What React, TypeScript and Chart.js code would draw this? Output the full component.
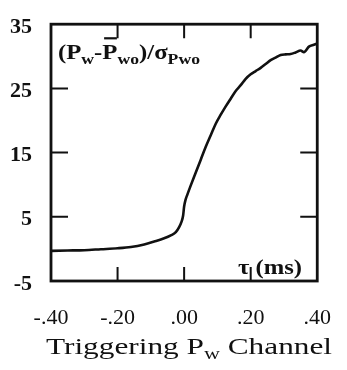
import { useEffect, useRef } from "react";
import { Chart, registerables } from "chart.js";

Chart.register(...registerables);

// Delay tau in milliseconds and the normalised P_w signal at each delay
const tauMs = [
  -0.4, -0.35, -0.3, -0.25, -0.2, -0.16, -0.12, -0.09, -0.06, -0.04, -0.025, -0.015,
  -0.008, -0.003, 0.0, 0.004, 0.01, 0.02, 0.035, 0.05, 0.065, 0.08, 0.095, 0.11,
  0.125, 0.14, 0.155, 0.17, 0.185, 0.2, 0.215, 0.23, 0.245, 0.26, 0.275, 0.29,
  0.305, 0.32, 0.335, 0.35, 0.36, 0.375, 0.39, 0.4,
];
const normPw = [
  -0.3, -0.25, -0.2, -0.05, 0.1, 0.3, 0.7, 1.15, 1.65, 2.1, 2.6, 3.4,
  4.2, 5.2, 6.6, 7.6, 8.5, 9.9, 11.9, 13.9, 15.9, 17.7, 19.5, 20.9,
  22.2, 23.4, 24.6, 25.5, 26.5, 27.2, 27.7, 28.2, 28.8, 29.4, 29.8, 30.2,
  30.3, 30.35, 30.6, 30.9, 30.65, 31.5, 31.8, 32.0,
];

// Axis ranges and the inward tick marks on all four sides
const xRange = [-0.4, 0.4];
const yRange = [-5, 35];
const yStep = 10;
const xStep = 0.2;
const innerXTicks = [-0.2, 0.0, 0.2];
const innerYTicks = [25, 15, 5];

const INK = "#111";
const SERIF = "'Liberation Serif', 'DejaVu Serif', serif";

function fmtTau(v: number): string {
  const s = Number(v).toFixed(2);
  return s.replace(/^(-?)0\./, "$1.");
}

type Part = { t: string; sub?: boolean; bar?: boolean };

function measureRich(ctx: CanvasRenderingContext2D, parts: Part[], mainFont: string, subFont: string) {
  let w = 0;
  for (const p of parts) {
    ctx.font = p.sub ? subFont : mainFont;
    w += ctx.measureText(p.t).width;
  }
  return w;
}

// Draws a run of text with subscripts, squeezed or widened to a set width
function drawRich(
  ctx: CanvasRenderingContext2D,
  parts: Part[],
  x: number,
  y: number,
  width: number,
  mainFont: string,
  subFont: string,
  subDrop: number,
  barRise = 20
) {
  const natural = measureRich(ctx, parts, mainFont, subFont);
  const sx = width / natural;
  const bars: Array<[number, number]> = [];
  ctx.save();
  ctx.translate(x, 0);
  ctx.scale(sx, 1);
  let cx = 0;
  for (const p of parts) {
    ctx.font = p.sub ? subFont : mainFont;
    const w = ctx.measureText(p.t).width;
    ctx.fillText(p.t, cx, p.sub ? y + subDrop : y);
    if (p.bar) bars.push([x + (cx + 1.5) * sx, x + (cx + w - 0.5) * sx]);
    cx += w;
  }
  ctx.restore();
  // overbars, drawn in unscaled space
  ctx.save();
  ctx.fillStyle = INK;
  for (const [a, b] of bars) {
    ctx.fillRect(a, y - barRise - 1, b - a, 2.2);
  }
  ctx.restore();
}

const framePlugin = {
  id: "frameAndLabels",
  afterDraw(chart: any) {
    const { ctx, chartArea } = chart;
    const xs = chart.scales.x;
    const ys = chart.scales.y;
    const { left, right, top, bottom } = chartArea;
    ctx.save();
    ctx.strokeStyle = INK;
    ctx.fillStyle = INK;

    // box
    ctx.lineWidth = 2.8;
    ctx.strokeRect(left, top, right - left, bottom - top);

    // inward tick marks
    ctx.lineWidth = 2;
    ctx.beginPath();
    for (const v of innerXTicks) {
      const px = xs.getPixelForValue(v);
      ctx.moveTo(px, top);
      ctx.lineTo(px, top + 14);
      ctx.moveTo(px, bottom);
      ctx.lineTo(px, bottom - 14);
    }
    for (const v of innerYTicks) {
      const py = ys.getPixelForValue(v);
      ctx.moveTo(left, py);
      ctx.lineTo(left + 17, py);
      ctx.moveTo(right, py);
      ctx.lineTo(right - 17, py);
    }
    ctx.stroke();

    ctx.textBaseline = "alphabetic";
    ctx.textAlign = "left";

    // quantity label in the upper-left corner
    drawRich(
      ctx,
      [
        { t: "(P" },
        { t: "w", sub: true },
        { t: "-" },
        { t: "P", bar: true },
        { t: "wo", sub: true },
        { t: ")/σ" },
        { t: "Pwo", sub: true },
      ],
      left + 7,
      top + 35,
      142,
      `bold 21px ${SERIF}`,
      `bold 15px ${SERIF}`,
      5,
      21
    );

    // delay label in the lower-right corner
    drawRich(ctx, [{ t: "τ (ms)" }], 238, bottom - 7, 64, `bold 21px ${SERIF}`, `bold 15px ${SERIF}`, 0);

    // caption under the axis
    drawRich(
      ctx,
      [{ t: "Triggering P" }, { t: "w", sub: true }, { t: " Channel" }],
      46,
      354,
      286,
      `24px ${SERIF}`,
      `17px ${SERIF}`,
      5
    );

    ctx.restore();
  },
};

export default function App() {
  const ref = useRef<HTMLCanvasElement | null>(null);

  useEffect(() => {
    if (!ref.current) return;
    const points = tauMs.map((t, i) => ({ x: t, y: normPw[i] }));
    const chart = new Chart(ref.current, {
      type: "line",
      data: {
        datasets: [
          {
            data: points,
            borderColor: INK,
            borderWidth: 2.6,
            pointRadius: 0,
            cubicInterpolationMode: "monotone",
            fill: false,
          },
        ],
      },
      options: {
        responsive: false,
        animation: false,
        devicePixelRatio: 1,
        layout: { padding: { top: 10, right: 22, left: 0, bottom: 0 } },
        plugins: {
          legend: { display: false },
          tooltip: { enabled: false },
          title: { display: false },
        },
        scales: {
          x: {
            type: "linear",
            min: xRange[0],
            max: xRange[1],
            grid: { display: false },
            border: { display: false },
            ticks: {
              stepSize: xStep,
              color: INK,
              font: { family: SERIF, size: 22 },
              padding: 16,
              maxRotation: 0,
              callback: (v: any) => fmtTau(Number(v)),
            },
            afterFit: (s: any) => {
              s.height = 89;
            },
          },
          y: {
            type: "linear",
            min: yRange[0],
            max: yRange[1],
            grid: { display: false },
            border: { display: false },
            ticks: {
              stepSize: yStep,
              color: INK,
              font: { family: SERIF, size: 22, weight: "bold" },
              padding: 11,
              labelOffset: 3,
            },
            afterFit: (s: any) => {
              s.width = 51;
            },
          },
        },
      },
      plugins: [framePlugin],
    });
    return () => chart.destroy();
  }, []);

  return (
    <div style={{ position: "fixed", left: 0, top: 0, width: 347, height: 370, background: "#fff" }}>
      <canvas ref={ref} width={347} height={370} />
    </div>
  );
}
